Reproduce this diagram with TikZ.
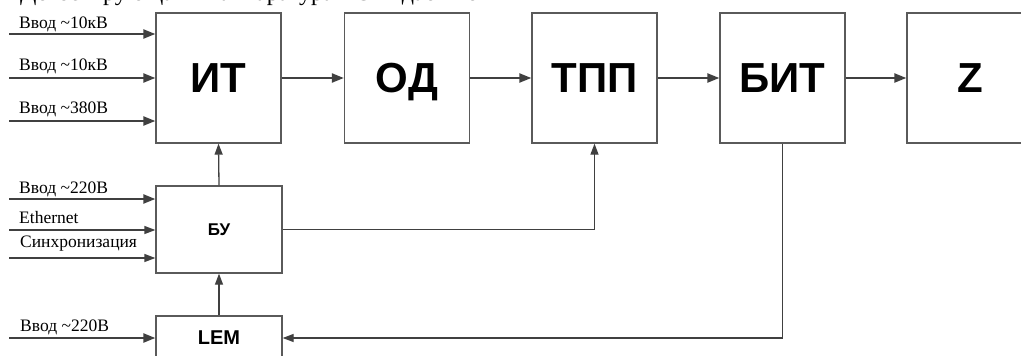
\documentclass[tikz,border=0pt]{standalone}
\usepackage{fontspec}
\setmainfont{Liberation Serif}
\newfontfamily\boxfont{Liberation Sans}
\usetikzlibrary{arrows.meta}
\definecolor{lineC}{HTML}{404040}
\definecolor{boxC}{HTML}{5A5A5A}
\newcommand{\tld}{\char126\relax}
\tikzset{
  blk/.style={draw=boxC, line width=1.3pt, fill=white, inner sep=0pt,
              text depth=0pt, font=\boxfont\bfseries, text=black},
  mainblk/.style={blk, minimum width=125pt, minimum height=130pt, font=\boxfont\bfseries\fontsize{42}{42}\selectfont},
  thickarr/.style={draw=lineC, line width=2.2pt, -{Triangle[length=12pt,width=9pt]}},
  thinarr/.style={draw=lineC, line width=1.3pt, -{Triangle[length=11pt,width=8pt]}},
  inlbl/.style={anchor=base west, inner sep=0pt, font=\fontsize{17.5}{17.5}\selectfont},
  toptxt/.style={anchor=base west, inner sep=0pt, font=\fontsize{24}{24}\selectfont}
}
\begin{document}
\begin{tikzpicture}[x=1pt, y=-1pt]
\useasboundingbox (0,0) rectangle (1021,356);
\clip (0,0) rectangle (1021,356);
\fill[white] (0,0) rectangle (1021,356);

% partially visible heading line (cut at top)
\node[toptxt] (h1) at (20,0) {Детестирующая};
\node[toptxt] (h2) at (220,0) {аппаратура};
\node[toptxt] (h3) at (355,0) {Ожидаемые};

% main blocks
\node[mainblk] (it)  at (218.5,78) {ИТ};
\node[mainblk] (od)  at (407,78) {ОД};
\node[mainblk] (tpp) at (594.5,78) {ТПП};
\node[mainblk] (bit) at (782.5,78) {БИТ};
\node[mainblk, minimum width=126pt] (z) at (970,78) {Z};

\node[blk, minimum width=126pt, minimum height=87pt, font=\boxfont\bfseries\fontsize{17}{17}\selectfont] (bu) at (219,229.5) {БУ};
\node[blk, minimum width=126pt, minimum height=44pt, font=\boxfont\bfseries\fontsize{20}{20}\selectfont] (lem) at (219,338) {LEM};

% inputs of ИТ
\coordinate (a1) at (9,34);
\coordinate (a2) at (9,78);
\coordinate (a3) at (9,121);
\draw[thickarr] (a1) -- (a1 -| it.west);
\draw[thickarr] (a2) -- (a2 -| it.west);
\draw[thickarr] (a3) -- (a3 -| it.west);
\node[inlbl] (l1) at (19,28) {Ввод \tld10кВ};
\node[inlbl] (l2) at (19,70) {Ввод \tld10кВ};
\node[inlbl] (l3) at (19,113) {Ввод \tld380В};

% inputs of БУ
\coordinate (b1) at (9,199);
\coordinate (b2) at (9,230);
\coordinate (b3) at (9,258);
\draw[thickarr] (b1) -- (b1 -| bu.west);
\draw[thinarr] (b2) -- (b2 -| bu.west);
\draw[thinarr] (b3) -- (b3 -| bu.west);
\node[inlbl] (l4) at (19,193) {Ввод \tld220В};
\node[inlbl] (l5) at (19,223) {Ethernet};
\node[inlbl] (l6) at (20,247) {Синхронизация};

% input of LEM
\coordinate (c1) at (9,338);
\draw[thickarr] (c1) -- (c1 -| lem.west);
\node[inlbl] (l7) at (20,331) {Ввод \tld220В};

% main chain
\draw[thickarr] (it.east) -- (od.west);
\draw[thickarr] (od.east) -- (tpp.west);
\draw[thickarr] (tpp.east) -- (bit.west);
\draw[thickarr] (bit.east) -- (z.west);

% control connections
\draw[thinarr] (bu.north) -- (it.south);
\draw[thinarr] (lem.north) -- (bu.south);
\draw[thinarr] (bu.east) -| (tpp.south);
\draw[thinarr] (bit.south) |- (lem.east);
\end{tikzpicture}
\end{document}
